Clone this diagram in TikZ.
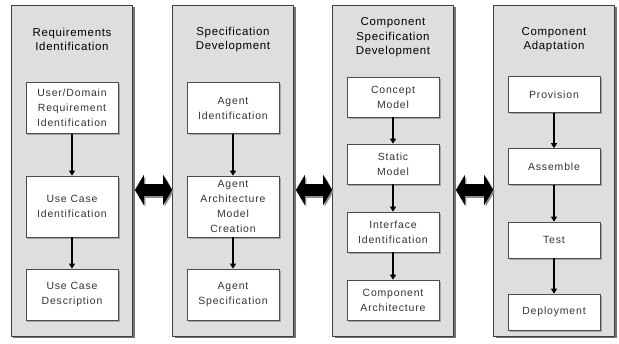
\documentclass[tikz,border=0pt]{standalone}
\usepackage{fontspec}
\setmainfont{Liberation Sans}
\newfontfamily\titlefont[LetterSpace=6]{Liberation Sans}
\newfontfamily\boxfont[LetterSpace=8]{Liberation Sans}
\usetikzlibrary{arrows.meta,shadows}
\definecolor{panelgray}{HTML}{DEDEDE}
\begin{document}
\begin{tikzpicture}[x=1bp,y=-1bp,
  panel/.style={draw=black!75, fill=panelgray, line width=0.8pt, minimum width=121bp, minimum height=331bp, inner sep=0pt,
    drop shadow={shadow xshift=2bp,shadow yshift=-2bp,fill=black!55,opacity=1}},
  stepbox/.style={draw=black!70, fill=white, line width=0.7pt, minimum width=92bp, inner sep=0pt, align=center,
    font=\boxfont\fontsize{10.5}{15}\selectfont, text=black!80,
    drop shadow={shadow xshift=1.5bp,shadow yshift=-1.5bp,fill=black!35,opacity=1}},
  ptitle/.style={align=center, font=\titlefont\fontsize{11.5}{14.5}\selectfont, text=black},
  flow/.style={-{Triangle[length=5bp,width=6bp]}, line width=2bp},
  bigarrow/.style={line width=12bp, {Triangle[length=9bp,width=30bp]}-{Triangle[length=9bp,width=30bp]}}
]
\useasboundingbox (0,0) rectangle (619,343);

% panels
\node[panel] (p1) at (72,170.5) {};
\node[panel] (p2) at (233,170.5) {};
\node[panel] (p3) at (393,170.5) {};
\node[panel] (p4) at (554,170.5) {};

% titles
\node[ptitle] (t1) at (72,39.5) {Requirements\\Identification};
\node[ptitle] (t2) at (233,39.5) {Specification\\Development};
\node[ptitle] (t3) at (393,37.5) {Component\\Specification\\Development};
\node[ptitle] (t4) at (554,39.5) {Component\\Adaptation};

% panel 1
\node[stepbox, minimum height=51bp] (a1) at (72,108) {User/Domain\\Requirement\\Identification};
\node[stepbox, minimum height=61bp] (a2) at (72,206.5) {Use Case\\Identification};
\node[stepbox, minimum height=51bp] (a3) at (72,294.5) {Use Case\\Description};
\draw[flow] (a1) -- (a2);
\draw[flow] (a2) -- (a3);

% panel 2
\node[stepbox, minimum height=51bp] (b1) at (233,108) {Agent\\Identification};
\node[stepbox, minimum height=61bp] (b2) at (233,206.5) {Agent\\Architecture\\Model\\Creation};
\node[stepbox, minimum height=51bp] (b3) at (233,294.5) {Agent\\Specification};
\draw[flow] (b1) -- (b2);
\draw[flow] (b2) -- (b3);

% panel 3
\node[stepbox, minimum height=40bp] (c1) at (393,97) {Concept\\Model};
\node[stepbox, minimum height=40bp] (c2) at (393,164) {Static\\Model};
\node[stepbox, minimum height=40bp] (c3) at (393,232) {Interface\\Identification};
\node[stepbox, minimum height=40bp] (c4) at (393,300) {Component\\Architecture};
\draw[flow] (c1) -- (c2);
\draw[flow] (c2) -- (c3);
\draw[flow] (c3) -- (c4);

% panel 4
\node[stepbox, minimum height=36bp] (d1) at (554,94.5) {Provision};
\node[stepbox, minimum height=36bp] (d2) at (554,166.5) {Assemble};
\node[stepbox, minimum height=36bp] (d3) at (554,240) {Test};
\node[stepbox, minimum height=36bp] (d4) at (554,312) {Deployment};
\draw[flow] (d1) -- (d2);
\draw[flow] (d2) -- (d3);
\draw[flow] (d3) -- (d4);

% double arrows between panels
\draw[bigarrow, black!45] ([xshift=3.5bp,yshift=-21bp]p1.east) -- ([xshift=1.5bp,yshift=-21bp]p2.west);
\draw[bigarrow] ([xshift=2bp,yshift=-19.5bp]p1.east) -- ([yshift=-19.5bp]p2.west);
\draw[bigarrow, black!45] ([xshift=3.5bp,yshift=-21bp]p2.east) -- ([xshift=1.5bp,yshift=-21bp]p3.west);
\draw[bigarrow] ([xshift=2bp,yshift=-19.5bp]p2.east) -- ([yshift=-19.5bp]p3.west);
\draw[bigarrow, black!45] ([xshift=3.5bp,yshift=-21bp]p3.east) -- ([xshift=1.5bp,yshift=-21bp]p4.west);
\draw[bigarrow] ([xshift=2bp,yshift=-19.5bp]p3.east) -- ([yshift=-19.5bp]p4.west);
\end{tikzpicture}
\end{document}
